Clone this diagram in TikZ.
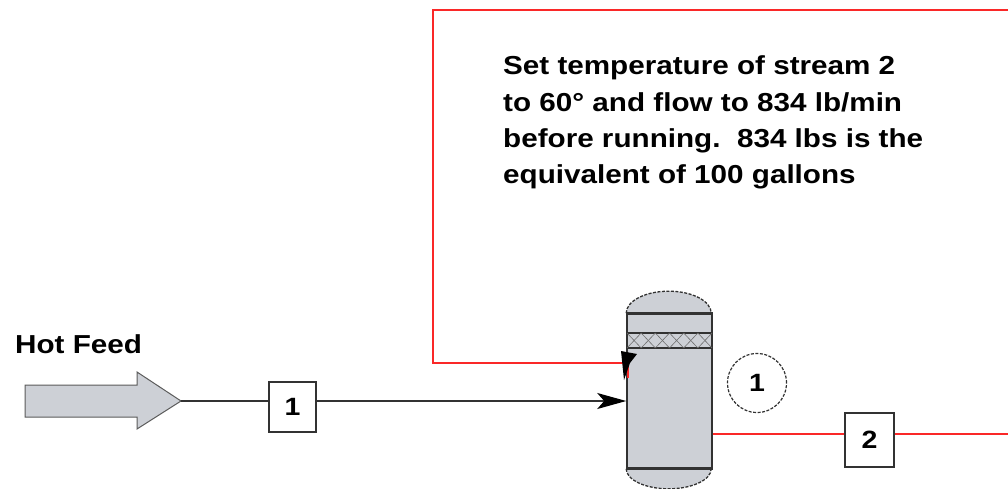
\documentclass[tikz,border=0pt]{standalone}
\usepackage{fontspec}
\setmainfont{Liberation Sans}[FakeStretch=1.14]
\usetikzlibrary{arrows.meta}
\definecolor{eqgray}{RGB}{205,208,214}
\definecolor{edge}{RGB}{50,50,50}
\definecolor{loopred}{RGB}{250,40,40}
\tikzset{
  lbl/.style={font=\fontsize{26}{30}\selectfont\bfseries, inner sep=0pt, text=black},
  streambox/.style={draw=edge, line width=1.6pt, fill=white, inner sep=0pt, font=\fontsize{25}{30}\selectfont\bfseries},
  redline/.style={draw=loopred, line width=1.5pt},
  blackline/.style={draw=edge, line width=1.3pt},
  vessel/.style={draw=edge, line width=1.6pt, fill=eqgray},
}
\begin{document}
\begin{tikzpicture}[x=1pt,y=-1pt]
\useasboundingbox (0,0) rectangle (1008,489);
\clip (0,0) rectangle (1008,489);
\fill[white] (0,0) rectangle (1008,489);

% tower body
\node[vessel, minimum width=85pt, minimum height=154pt, inner sep=0pt] (tower) at (669.5,391) {};
% caps
\filldraw[fill=eqgray, draw=edge, line width=1.3pt, dash pattern=on 3pt off 1.5pt]
  (tower.north west) arc[start angle=180, end angle=360, x radius=42.5, y radius=22];
\filldraw[fill=eqgray, draw=edge, line width=1.3pt, dash pattern=on 3pt off 1.5pt]
  (tower.south west) arc[start angle=180, end angle=0, x radius=42.5, y radius=20];
\draw[vessel] (tower.north west) -- (tower.north east);
\draw[vessel] (tower.south west) -- (tower.south east);
% packing
\draw[edge, line width=1.5pt] (627,333) -- (712,333);
\draw[edge, line width=1.5pt] (627,348) -- (712,348);
\foreach \i in {0,...,5}{
  \draw[edge!70, line width=0.6pt] ({627+14.17*\i},333) -- ({627+14.17*(\i+1)},348);
  \draw[edge!70, line width=0.6pt] ({627+14.17*\i},348) -- ({627+14.17*(\i+1)},333);
}

% hot feed arrow
\filldraw[fill=eqgray, draw=edge!80, line width=1pt]
  (25,385) -- (137,385) -- (137,372) -- (181,401) -- (137,429) -- (137,417) -- (25,417) -- cycle;
\coordinate (feedtip) at (181,401);
\node[lbl, anchor=base west] (hotfeed) at (15,353) {Hot Feed};

% stream boxes
\node[streambox, minimum width=47pt, minimum height=50pt] (box1) at (292.5,407) {1};

% recycle loop (red)
\coordinate (loopR) at (1030,434);
\coordinate (loopTR) at (1030,10);
\coordinate (loopTL) at (433,10);
\coordinate (loopBL) at (433,363);
\coordinate (redend) at (628,378);
\draw[redline] (tower.east |- loopR) -- (loopR) -- (loopTR) -- (loopTL) -- (loopBL) -- (loopBL -| redend) -- (redend);
\fill[black] (621,351) -- (637,354) -- (630,363) -- (624,380) -- cycle;

\node[streambox, minimum width=49pt, minimum height=54pt] (box2) at (869.5,440) {2};

% feed line
\draw[blackline] (feedtip) -- (feedtip -| box1.west);
\draw[blackline, -{Stealth[length=29pt, width=16pt, inset=7pt, color=black]}] (box1.east |- feedtip) -- (tower.west |- feedtip);

% unit label
\node[circle, draw=edge, line width=1.2pt, dash pattern=on 3pt off 1.5pt, minimum size=59pt, inner sep=0pt,
      font=\fontsize{25}{30}\selectfont\bfseries] (unit) at (757,383) {1};

% note
\node[lbl, anchor=base west] (n1) at (503,75) {Set temperature of stream 2};
\node[lbl, anchor=base west] (n2) at (503,111.3) {to 60° and flow to 834 lb/min};
\node[lbl, anchor=base west] (n3) at (503,147.6) {before running.\ \ 834 lbs is the};
\node[lbl, anchor=base west] (n4) at (503,183.9) {equivalent of 100 gallons};
\end{tikzpicture}
\end{document}
